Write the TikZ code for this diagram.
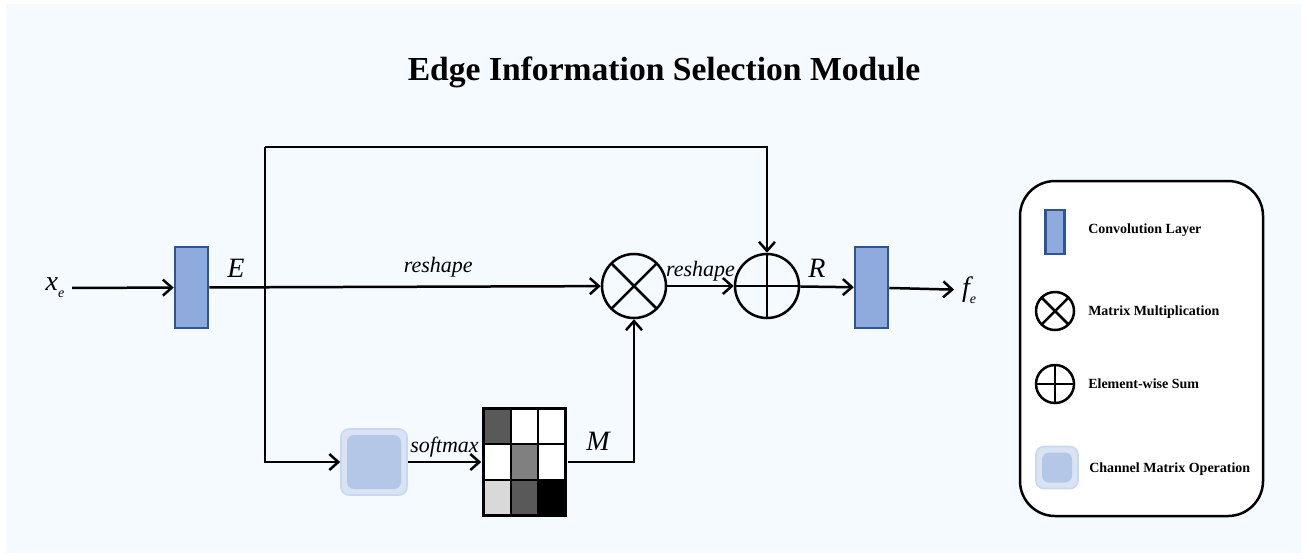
\documentclass[tikz,border=0pt]{standalone}
\usepackage{fontspec}
\setmainfont{Liberation Serif}
\usepackage{tikz}
\usetikzlibrary{positioning}
\usetikzlibrary{matrix}
\usetikzlibrary{arrows.meta}

\definecolor{bgblue}{HTML}{F5FAFE}
\definecolor{convfill}{HTML}{8FAADC}
\definecolor{convdraw}{HTML}{2F5597}
\definecolor{opfill}{HTML}{B4C7E7}
\definecolor{opouter}{HTML}{DAE3F3}
\definecolor{opedge}{HTML}{C9D7F0}

\newcommand{\subidx}[1]{\raisebox{-3.5pt}{\fontsize{7}{7}\selectfont #1}}

\begin{document}
\begin{tikzpicture}[x=0.5pt, y=-0.5pt, line width=1.25pt,
	>={Straight Barb[length=4.5pt,width=8pt]},
	conv/.style={draw=convdraw, fill=convfill, inner sep=0pt, minimum width=#1},
	conv/.default=16.5pt,
	mulop/.style={circle, draw, inner sep=0pt, minimum size=#1,
		path picture={\draw[line width=1.25pt] (path picture bounding box.north west) -- (path picture bounding box.south east)
			(path picture bounding box.north east) -- (path picture bounding box.south west);}},
	sumop/.style={circle, draw, inner sep=0pt, minimum size=#1,
		path picture={\draw[line width=1.25pt] (path picture bounding box.north) -- (path picture bounding box.south)
			(path picture bounding box.west) -- (path picture bounding box.east);}},
	chanop/.style={draw=opedge, line width=0.8pt, fill=opouter, rounded corners=4pt, minimum size=#1, inner sep=0pt,
		path picture={\fill[opfill, rounded corners=3.5pt] ([shift={(3pt,3pt)}]path picture bounding box.south west)
			rectangle ([shift={(-3pt,-3pt)}]path picture bounding box.north east);}},
	lbl/.style={font=\fontsize{14}{16}\selectfont\itshape},
	op/.style={font=\fontsize{11}{13}\selectfont\itshape, inner sep=1pt},
	key/.style={font=\fontsize{7}{8}\selectfont\bfseries, anchor=west, inner sep=0pt}
	]
	% background
	\fill[white] (0,0) rectangle (1309,559);
	\fill[bgblue] (6,4) rectangle (1301,553);
	\useasboundingbox (0,0) rectangle (1309,559);

	\node[font=\fontsize{16.8}{20}\selectfont\bfseries] (title) at (664,72) {Edge Information Selection Module};

	% main path
	\node[lbl] (xe) at (55,288) {x\subidx{e}};
	\node[conv, minimum height=40.5pt] (conv1) at (191.5,287.5) {};
	\node[mulop=32pt] (mul) at (634,286) {};
	\node[sumop=32pt] (sum) at (767,286) {};
	\node[conv, minimum height=40.5pt] (conv2) at (871.5,287.5) {};
	\node[lbl] (fe) at (969,290) {f\subidx{e}};

	\node[chanop=33pt] (cmo) at (374,462) {};
	\matrix (S) at (524.5,462) [
		matrix of nodes, inner sep=0pt, column sep=-1.25pt, row sep=-1.25pt,
		nodes={draw, minimum width=13.6pt, minimum height=17.8pt, inner sep=0pt}, nodes in empty cells
	]{
		|[fill=black!65]| & |[fill=white]| & |[fill=white]| \\
		|[fill=white]| & |[fill=black!50]| & |[fill=white]| \\
		|[fill=black!15]| & |[fill=black!65]| & |[fill=black]| \\
	};

	\coordinate (tl) at (265,147);

	\draw[->] (xe) -- (conv1);
	\draw[->] (conv1) -- node[op, above=3pt, pos=0.585] {reshape} (mul);
	\draw[->] (mul) -- node[op, above=1pt] {reshape} (sum);
	\draw[->] (sum) -- (conv2);
	\draw[->] (conv2) -- (fe);
	\draw[->] (tl) -| (sum);
	\draw[->] (tl) |- (cmo);
	\draw[->] (cmo) -- node[op, above=1pt] {softmax} (S);
	\draw[->] (S) -| (mul);

	\node[lbl] (E) at (236,268) {E};
	\node[lbl] (R) at (817,268) {R};
	\node[lbl] (M) at (598,441) {M};

	% legend
	\draw[fill=white, rounded corners=17.5pt] (1020,181) rectangle (1263,516);
	\node[conv=9.5pt, minimum height=22pt] (kconv) at (1055,232) {};
	\node[mulop=19pt] (kmul) at (1055,311) {};
	\node[sumop=19pt] (ksum) at (1055,384) {};
	\node[chanop=21pt] (kcmo) at (1057,467.5) {};
	\node[key] at (1087,230) {Convolution Layer};
	\node[key] at (1087,312) {Matrix Multiplication};
	\node[key] at (1087,384) {Element-wise Sum};
	\node[key] at (1088,469) {Channel Matrix Operation};
\end{tikzpicture}
\end{document}
